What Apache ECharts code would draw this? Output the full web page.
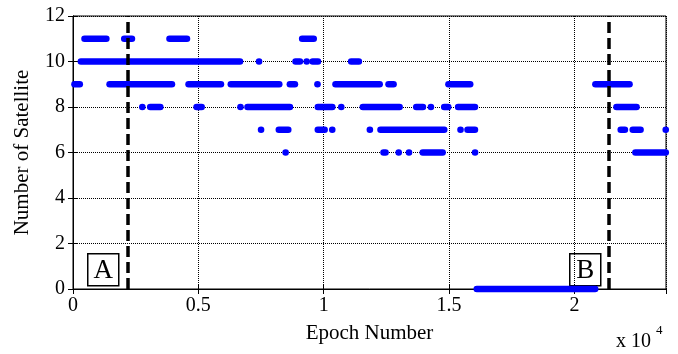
<!DOCTYPE html>
<html lang="en">
<head>
    <meta charset="UTF-8">
    <title>Number of Satellite</title>
    <script src="https://cdn.jsdelivr.net/npm/echarts@6/dist/echarts.min.js"></script>
    <style>
        html, body { margin: 0; padding: 0; background: #fff; }
    </style>
</head>
<body>
    <div id="chart" style="width:678px;height:354px;"></div>

    <script>
        // runs of epochs [start, end] with a constant satellite count
        var runs11 = [[460, 1330], [2045, 2350], [3850, 4545], [9140, 9600]];
        var runs10 = [[315, 6660], [7420, 7420], [8875, 9050], [9320, 9320], [9560, 9770], [11095, 11400]];
        var runs9 = [[60, 270], [1460, 3945], [4610, 5900], [6295, 8225], [8650, 8850], [9750, 9750],
                     [10470, 12230], [12585, 12785], [14975, 15840], [20835, 22195]];
        var runs8 = [[2765, 2765], [3080, 3480], [4930, 5130], [6680, 6680], [6960, 8650], [9765, 10340],
                     [10700, 10700], [11560, 13025], [13690, 13955], [14275, 14275], [14805, 14965],
                     [15360, 16030], [21675, 22475]];
        var runs7 = [[7500, 7500], [8210, 8585], [9765, 10035], [10340, 10340], [11840, 11840],
                     [12265, 14805], [15455, 15455], [15735, 16030], [21845, 22010], [22325, 22635], [23640, 23640]];
        var runs6 = [[8480, 8480], [12385, 12465], [12990, 12990], [13400, 13400], [13950, 14740],
                     [16035, 16035], [22430, 23640]];
        var runs0 = [[16105, 20825]];

        var levels = [11, 10, 9, 8, 7, 6, 0];
        var runsByLevel = [runs11, runs10, runs9, runs8, runs7, runs6, runs0];

        // dashed markers for the two zones
        var zoneLines = [2170, 21380];

        var xTicks = [0, 5000, 10000, 15000, 20000];

        var data = [];
        for (var i = 0; i < levels.length; i++) {
            runsByLevel[i].forEach(function (r) {
                data.push([r[0], r[1], levels[i]]);
            });
        }

        var chart = echarts.init(document.getElementById('chart'));
        var font = '"Liberation Serif", "Times New Roman", serif';
        var r = 3.3;

        var option = {
            animation: false,
            textStyle: { fontFamily: font },
            grid: { left: 73, right: 12, top: 16, bottom: 65, show: true, borderColor: '#000', borderWidth: 1 },
            xAxis: [{
                type: 'value',
                min: 0,
                max: 23650,
                interval: 5000,
                name: 'Epoch Number',
                nameLocation: 'middle',
                nameGap: 34,
                nameTextStyle: { color: '#000', fontSize: 21, fontFamily: font },
                axisLine: { show: true, lineStyle: { color: '#000', width: 1 } },
                axisTick: { inside: true, length: 5, lineStyle: { color: '#000' } },
                axisLabel: {
                    color: '#000', fontSize: 20, fontFamily: font, margin: 7,
                    showMaxLabel: false,
                    formatter: function (v) { return xTicks.indexOf(v) >= 0 ? String(v / 10000) : ''; }
                },
                splitLine: { show: true, lineStyle: { color: '#000', type: [1, 1], width: 1 } }
            }, {
                type: 'value',
                position: 'top',
                min: 0,
                max: 23650,
                interval: 5000,
                axisLine: { show: true, lineStyle: { color: '#000' } },
                axisTick: { inside: true, length: 5, lineStyle: { color: '#000' } },
                axisLabel: { show: false },
                splitLine: { show: false }
            }],
            yAxis: [{
                type: 'value',
                min: 0,
                max: 12,
                interval: 2,
                name: 'Number of Satellite',
                nameLocation: 'middle',
                nameRotate: 90,
                nameGap: 40,
                nameTextStyle: { color: '#000', fontSize: 21, fontFamily: font },
                axisLine: { show: true, lineStyle: { color: '#000', width: 1 } },
                axisTick: { inside: true, length: 5, lineStyle: { color: '#000' } },
                axisLabel: { color: '#000', fontSize: 20, fontFamily: font, margin: 8 },
                splitLine: { show: true, lineStyle: { color: '#000', type: [1, 1], width: 1 } }
            }, {
                type: 'value',
                position: 'right',
                min: 0,
                max: 12,
                interval: 2,
                axisLine: { show: true, lineStyle: { color: '#000' } },
                axisTick: { inside: true, length: 5, lineStyle: { color: '#000' } },
                axisLabel: { show: false },
                splitLine: { show: false }
            }],
            series: [{
                type: 'custom',
                clip: false,
                xAxisIndex: 0,
                yAxisIndex: 0,
                encode: { x: [0, 1], y: 2 },
                data: data,
                renderItem: function (params, api) {
                    var p0 = api.coord([api.value(0), api.value(2)]);
                    var p1 = api.coord([api.value(1), api.value(2)]);
                    return {
                        type: 'rect',
                        shape: { x: p0[0] - r, y: p0[1] - r, width: p1[0] - p0[0] + 2 * r, height: 2 * r, r: r },
                        style: { fill: '#0000ff' }
                    };
                },
                markLine: {
                    silent: true,
                    symbol: 'none',
                    label: { show: false },
                    lineStyle: { color: '#000', type: [11, 5], width: 3.5 },
                    data: zoneLines.map(function (v) { return { xAxis: v }; })
                },
                z: 3
            }],
            graphic: [
                {
                    type: 'group', left: 87, top: 253,
                    children: [
                        { type: 'rect', shape: { x: 0, y: 0, width: 31, height: 32 }, style: { fill: '#fff', stroke: '#000', lineWidth: 1.5 } },
                        { type: 'text', x: 15.5, y: 17, style: { text: 'A', fontSize: 27, fontFamily: font, fill: '#000', align: 'center', verticalAlign: 'middle' } }
                    ]
                },
                {
                    type: 'group', left: 569, top: 253,
                    children: [
                        { type: 'rect', shape: { x: 0, y: 0, width: 31, height: 32 }, style: { fill: '#fff', stroke: '#000', lineWidth: 1.5 } },
                        { type: 'text', x: 15.5, y: 17, style: { text: 'B', fontSize: 27, fontFamily: font, fill: '#000', align: 'center', verticalAlign: 'middle' } }
                    ]
                },
                {
                    type: 'text', left: 616, top: 332,
                    style: { text: 'x 10', fontSize: 20, fontFamily: font, fill: '#000' }
                },
                {
                    type: 'text', left: 656, top: 324,
                    style: { text: '4', fontSize: 13, fontFamily: font, fill: '#000' }
                }
            ]
        };

        chart.setOption(option);
    </script>
</body>
</html>
